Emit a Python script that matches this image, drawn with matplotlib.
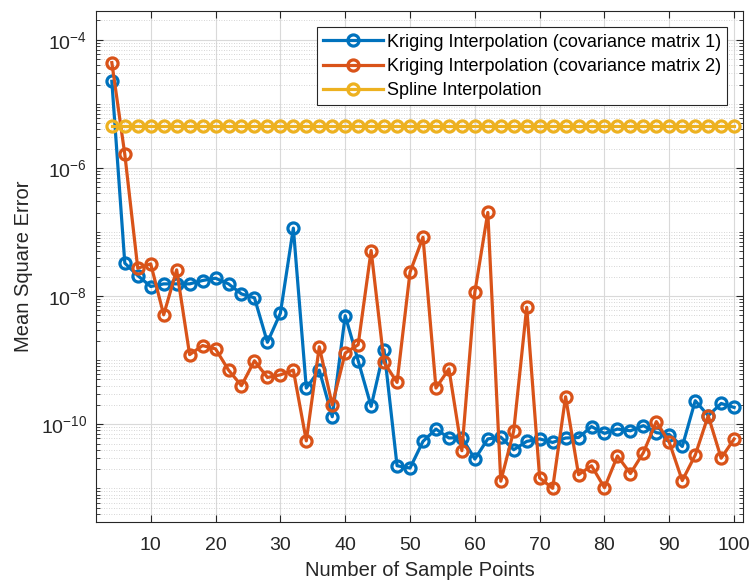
import matplotlib
matplotlib.use("Agg")
import matplotlib.pyplot as plt
import numpy as np
from matplotlib.ticker import FixedLocator, LogLocator, NullFormatter

plt.rcParams["font.family"] = ["Liberation Sans", "DejaVu Sans"]
plt.rcParams["mathtext.fontset"] = "custom"
plt.rcParams["mathtext.rm"] = "Liberation Sans"
plt.rcParams["mathtext.it"] = "Liberation Sans:italic"

# number of sample points (even counts 4..100)
n_points = list(range(4, 101, 2))

mse_kriging_cov1 = [
    2.25e-5, 3.26e-8, 2.09e-8, 1.41e-8, 1.55e-8, 1.55e-8, 1.55e-8, 1.75e-8,
    1.9e-8, 1.55e-8, 1.08e-8, 9.4e-9, 1.9e-9, 5.4e-9, 1.15e-7, 3.67e-10,
    7.0e-10, 1.31e-10, 4.95e-9, 9.8e-10, 1.9e-10, 1.45e-9, 2.25e-11, 2.07e-11,
    5.4e-11, 8.4e-11, 6.1e-11, 6.2e-11, 2.86e-11, 5.9e-11, 6.3e-11, 4.0e-11,
    5.4e-11, 5.9e-11, 5.2e-11, 6.1e-11, 6.2e-11, 9.2e-11, 7.2e-11, 8.4e-11,
    7.9e-11, 9.5e-11, 7.4e-11, 6.9e-11, 4.5e-11, 2.33e-10, 1.36e-10, 2.11e-10,
    1.83e-10,
]

mse_kriging_cov2 = [
    4.4e-5, 1.63e-6, 2.72e-8, 3.18e-8, 5.1e-9, 2.57e-8, 1.22e-9, 1.69e-9,
    1.5e-9, 7.0e-10, 4.0e-10, 9.8e-10, 5.37e-10, 5.9e-10, 7.0e-10, 5.5e-11,
    1.62e-9, 2.0e-10, 1.29e-9, 1.74e-9, 5.14e-8, 9.2e-10, 4.5e-10, 2.36e-8,
    8.3e-8, 3.67e-10, 7.3e-10, 3.86e-11, 1.15e-8, 2.02e-7, 1.29e-11, 7.9e-11,
    6.7e-9, 1.45e-11, 1.0e-11, 2.69e-10, 1.63e-11, 2.25e-11, 1.02e-11, 3.2e-11,
    1.7e-11, 3.6e-11, 1.1e-10, 5.2e-11, 1.32e-11, 3.3e-11, 1.36e-10, 2.95e-11,
    5.9e-11,
]

mse_spline = [4.5e-6] * len(n_points)

series = [
    ("Kriging Interpolation (covariance matrix 1)", mse_kriging_cov1, "#0072BD"),
    ("Kriging Interpolation (covariance matrix 2)", mse_kriging_cov2, "#D95319"),
    ("Spline Interpolation", mse_spline, "#EDB120"),
]

fig = plt.figure(figsize=(7.53, 5.85), dpi=100)
ax = fig.add_axes([0.127, 0.108, 0.86, 0.873])

for label, vals, color in series:
    ax.plot(n_points, vals, "-o", color=color, lw=2.3, ms=8, mew=2.3,
            mfc="none", label=label)

ax.set_yscale("log")
ax.set_xlim(1.5, 101.4)
ax.set_ylim(3e-12, 2.8e-4)

ax.xaxis.set_major_locator(FixedLocator(range(10, 101, 10)))
ax.yaxis.set_major_locator(FixedLocator([1e-10, 1e-8, 1e-6, 1e-4]))
ax.set_yticklabels([r"$10^{-10}$", r"$10^{-8}$", r"$10^{-6}$", r"$10^{-4}$"])
ax.yaxis.set_minor_locator(LogLocator(base=10, subs=np.arange(1, 10), numticks=50))
ax.yaxis.set_minor_formatter(NullFormatter())

ax.grid(True, which="major", color="#d9d9d9", lw=0.8, ls="-")
ax.grid(True, which="minor", axis="y", color="#c8c8c8", lw=0.6, ls=(0, (1, 2)))
ax.set_axisbelow(True)

ax.tick_params(which="both", direction="in", top=True, right=True,
               colors="#262626", labelsize=14)
ax.tick_params(which="major", length=5, width=0.8)
ax.tick_params(which="minor", length=3, width=0.6)
ax.tick_params(axis="x", pad=11)
ax.tick_params(axis="y", pad=6)
for sp in ax.spines.values():
    sp.set_color("#262626")
    sp.set_linewidth(0.8)

ax.set_xlabel("Number of Sample Points", fontsize=14.5, color="#262626", labelpad=5)
ax.set_ylabel("Mean Square Error", fontsize=14.5, color="#262626", labelpad=6)

leg = ax.legend(loc="upper right", fontsize=13, frameon=True, fancybox=False,
                edgecolor="#262626", framealpha=1, borderpad=0.35,
                labelspacing=0.4, handlelength=3.3, handletextpad=0.2,
                borderaxespad=0.9)
leg.get_frame().set_linewidth(0.8)

fig.savefig("out.png", dpi=100)
